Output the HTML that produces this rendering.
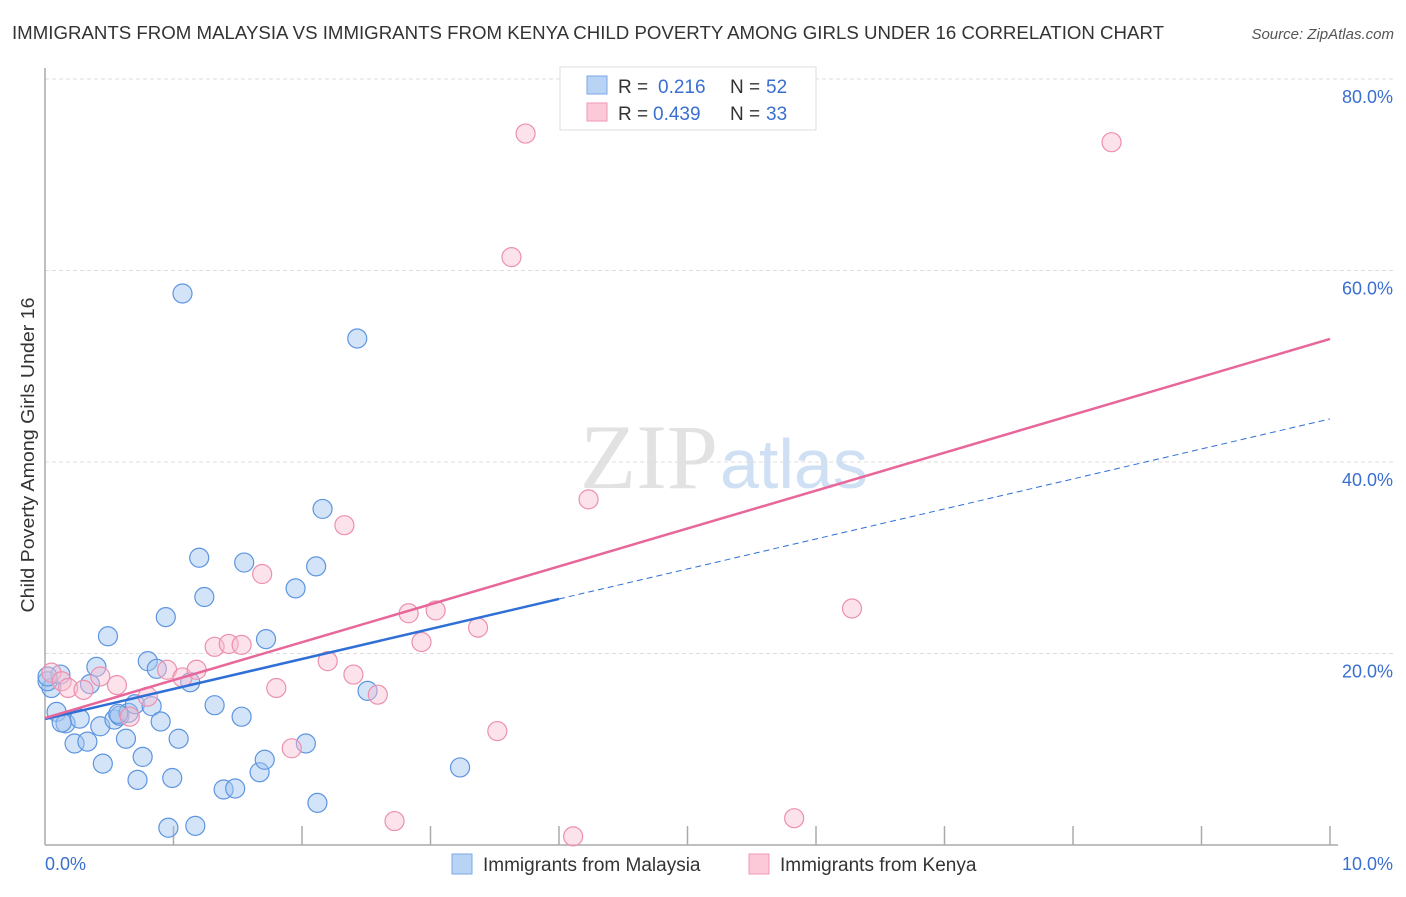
<!DOCTYPE html>
<html><head><meta charset="utf-8"><style>
body{margin:0;background:#fff;font-family:"Liberation Sans",sans-serif}
</style></head><body>
<svg width="1406" height="892" xmlns="http://www.w3.org/2000/svg">
<text x="12" y="39" font-size="18" fill="#333" textLength="1152" lengthAdjust="spacingAndGlyphs">IMMIGRANTS FROM MALAYSIA VS IMMIGRANTS FROM KENYA CHILD POVERTY AMONG GIRLS UNDER 16 CORRELATION CHART</text>
<text x="1394" y="39" font-size="15" fill="#555" font-style="italic" text-anchor="end">Source: ZipAtlas.com</text>
<text x="718" y="488" font-size="92" fill="#e2e2e2" text-anchor="end" font-family="Liberation Serif,serif">ZIP</text>
<text x="720" y="488" font-size="70" fill="#d0e0f4">atlas</text>
<g id="grid"></g>
<g id="axes"></g>
<g id="pts"></g>
<g id="lines"></g>
<text transform="translate(34,455) rotate(-90)" font-size="18" fill="#333" text-anchor="middle" textLength="315" lengthAdjust="spacingAndGlyphs">Child Poverty Among Girls Under 16</text>
<text x="45" y="870" font-size="18" fill="#3a6fd0">0.0%</text>
<text x="1393" y="870" font-size="18" fill="#3a6fd0" text-anchor="end">10.0%</text>
<g>
<rect x="560" y="67" width="256" height="63" fill="#fff" stroke="#ddd"/>
<rect x="587" y="76" width="20" height="18" fill="#b9d3f5" stroke="#7ba7e6"/>
<text x="618" y="93" font-size="19" fill="#333">R =</text><text x="658" y="93" font-size="19" fill="#3a6fd0">0.216</text>
<text x="730" y="93" font-size="19" fill="#333">N =</text><text x="766" y="93" font-size="19" fill="#3a6fd0">52</text>
<rect x="587" y="103" width="20" height="18" fill="#fbc9d8" stroke="#ef9ab5"/>
<text x="618" y="120" font-size="19" fill="#333">R =</text><text x="653" y="120" font-size="19" fill="#3a6fd0">0.439</text>
<text x="730" y="120" font-size="19" fill="#333">N =</text><text x="766" y="120" font-size="19" fill="#3a6fd0">33</text>
</g>
<g><rect x="452" y="854" width="20" height="20" fill="#b9d3f5" stroke="#7ba7e6"/><text x="483" y="871" font-size="19" fill="#333">Immigrants from Malaysia</text></g>
<g><rect x="749" y="854" width="20" height="20" fill="#fbc9d8" stroke="#ef9ab5"/><text x="780" y="871" font-size="19" fill="#333">Immigrants from Kenya</text></g>
</svg>
<script>
const yTicks=[20,40,60,80];
const xTicks=[1,2,3,4,5,6,7,8,9,10];
const malaysiaX=[0.05,0.02,0.12,0.09,0.16,0.27,0.23,0.33,0.4,0.35,0.43,0.45,0.49,0.54,0.63,0.58,0.65,0.7,0.72,0.76,0.8,0.83,0.87,0.9,0.94,0.96,0.99,1.04,1.07,1.13,1.17,1.2,1.24,1.32,1.39,1.48,1.53,1.55,1.67,1.71,1.72,1.95,2.03,2.11,2.12,2.16,2.43,2.51,3.23,0.02,0.13,0.57];
const malaysiaY=[16.4,17.1,17.8,13.9,12.7,13.2,10.6,10.8,18.6,16.8,12.4,8.5,21.8,13.1,11.1,13.5,13.8,14.7,6.8,9.2,19.2,14.5,18.4,12.9,23.8,1.8,7.0,11.1,57.6,17.0,2.0,30.0,25.9,14.6,5.8,5.9,13.4,29.5,7.6,8.9,21.5,26.8,10.6,29.1,4.4,35.1,52.9,16.1,8.1,17.6,12.8,13.7];
const kenyaX=[0.05,0.13,0.18,0.3,0.43,0.56,0.66,0.8,0.95,1.07,1.18,1.32,1.43,1.53,1.69,1.8,1.92,2.2,2.33,2.4,2.59,2.72,2.83,2.93,3.04,3.37,3.52,3.63,3.74,4.11,4.23,5.83,6.28,8.3];
const kenyaY=[18.0,17.1,16.4,16.2,17.6,16.7,13.4,15.5,18.3,17.5,18.3,20.7,21.0,20.9,28.3,16.4,10.1,19.2,33.4,17.8,15.7,2.5,24.2,21.2,24.5,22.7,11.9,61.4,74.3,0.9,36.1,2.8,24.7,73.4];
const blueLine=[13.16,44.5], blueSolidEnd=4.0;
const pinkLine=[13.26,52.85];
const NS="http://www.w3.org/2000/svg";
const X=v=>45+v*128.5, Y=v=>845-v*9.575;
function mk(tag,attrs,parent){const e=document.createElementNS(NS,tag);for(const k in attrs)e.setAttribute(k,attrs[k]);document.getElementById(parent).appendChild(e);return e;}
yTicks.forEach(t=>{
 const l=mk('line',{x1:45,x2:1393,y1:Y(t),y2:Y(t),stroke:'#ddd','stroke-dasharray':'4,3'},'grid');
 
 
 const tx=mk('text',{x:1393,y:Y(t)+24,'font-size':18,fill:'#3a6fd0','text-anchor':'end'},'grid');
 tx.textContent=t.toFixed(1)+'%';
 
 
});
let a=mk('line',{x1:45,x2:45,y1:68,y2:845,stroke:'#aaa','stroke-width':1.5},'axes');


a=mk('line',{x1:45,x2:1338,y1:845,y2:845,stroke:'#aaa','stroke-width':1.5},'axes');


xTicks.forEach(t=>{const l=mk('line',{x1:X(t),x2:X(t),y1:826,y2:845,stroke:'#aaa','stroke-width':1.5},'axes');
 
 });
malaysiaX.forEach((x,i)=>{const c=mk('circle',{cx:X(x),cy:Y(malaysiaY[i]),r:9.5,fill:'rgba(160,196,240,0.45)',stroke:'#5d95e0','stroke-width':1.2},'pts');
 
 });
kenyaX.forEach((x,i)=>{const c=mk('circle',{cx:X(x),cy:Y(kenyaY[i]),r:9.5,fill:'rgba(248,190,208,0.45)',stroke:'#ec90ae','stroke-width':1.2},'pts');
 
 });
const bl=x=>blueLine[0]+(blueLine[1]-blueLine[0])*x/10;
let t=mk('line',{x1:X(0),y1:Y(bl(0)),x2:X(blueSolidEnd),y2:Y(bl(blueSolidEnd)),stroke:'#2f6fd6','stroke-width':2.5},'lines');


t=mk('line',{x1:X(blueSolidEnd),y1:Y(bl(blueSolidEnd)),x2:X(10),y2:Y(bl(10)),stroke:'#2f6fd6','stroke-width':1,'stroke-dasharray':'6,4'},'lines');


t=mk('line',{x1:X(0),y1:Y(pinkLine[0]),x2:X(10),y2:Y(pinkLine[1]),stroke:'#e8679a','stroke-width':2.5},'lines');


</script>
</body></html>
